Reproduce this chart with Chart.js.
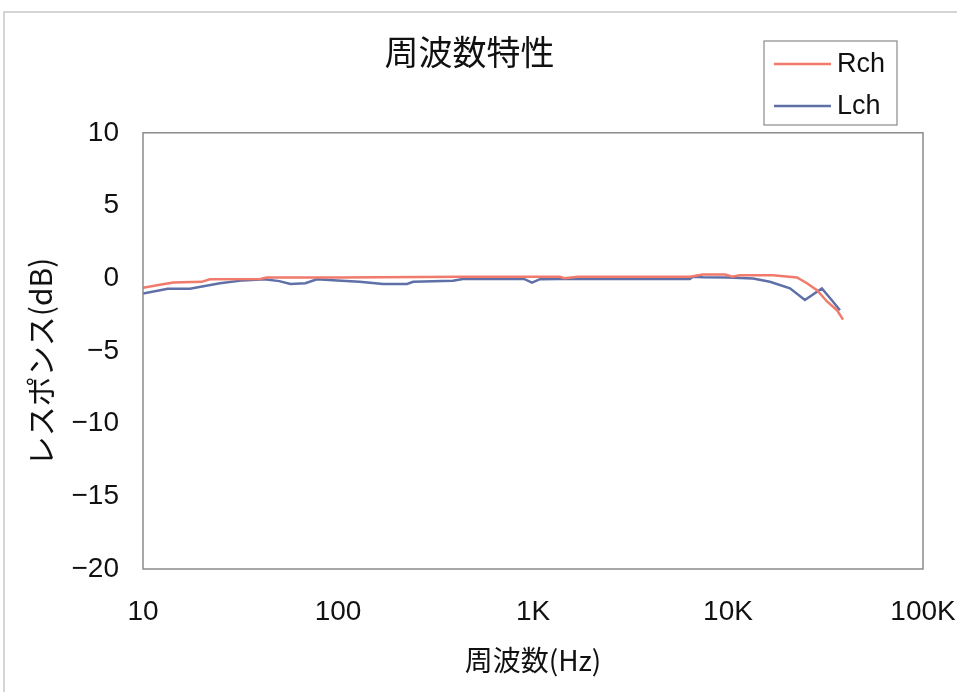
<!DOCTYPE html>
<html>
<head>
<meta charset="utf-8">
<script src="https://cdn.jsdelivr.net/npm/chart.js@4/dist/chart.umd.min.js"></script>
<style>
  body { margin: 0; background: #fff; }
  #wrap { width: 957px; height: 692px; position: relative; }
</style>
</head>
<body>
<div id="wrap"><canvas id="chart"></canvas></div>
<script>
var chartTitle = '周波数特性';
var xTitle = '周波数(Hz)';
var yTitle = 'レスポンス(dB)';

var xTickValues = [10, 100, 1000, 10000, 100000];
var xTickLabels = ['10', '100', '1K', '10K', '100K'];

var seriesNames = ['Rch', 'Lch'];

// Rch
var rchFreq = [10, 12.2, 14.3, 20, 22, 40, 43, 100, 430, 1000, 1370, 1450, 1700, 6400, 7400, 9700, 10500, 11500, 17000, 22600, 25400, 28600, 32200, 36200, 38900];
var rchDb   = [-0.65, -0.45, -0.3, -0.25, -0.08, -0.05, 0.05, 0.05, 0.1, 0.1, 0.1, 0.0, 0.1, 0.1, 0.25, 0.25, 0.1, 0.2, 0.2, 0.05, -0.35, -0.83, -1.6, -2.2, -2.85];

// Lch
var lchFreq = [10, 13.4, 17.4, 24.8, 32.6, 42, 50, 57, 68, 78, 99, 129, 170, 226, 243, 389, 437, 900, 988, 1086, 1374, 1742, 6378, 6600, 7446, 9886, 13440, 16400, 20800, 24800, 30300, 34500, 37500];
var lchDb   = [-1.05, -0.72, -0.72, -0.35, -0.15, -0.07, -0.2, -0.4, -0.35, -0.07, -0.15, -0.25, -0.4, -0.4, -0.25, -0.18, -0.05, -0.05, -0.3, -0.07, -0.05, -0.05, -0.05, 0.1, 0.07, 0.05, -0.02, -0.25, -0.7, -1.5, -0.7, -1.6, -2.2];

var redColor = '#f07a6c';
var blueColor = '#5f6fa8';

function toPoints(xs, ys) {
    var pts = [];
    for (var i = 0; i < xs.length; i++) {
        pts.push({x: xs[i], y: ys[i]});
    }
    return pts;
}

// frame round the plot, outer border, y title and the boxed legend
var framePlugin = {
    id: 'frame',
    afterDraw: function(chart) {
        var ctx = chart.ctx;
        var a = chart.chartArea;
        ctx.save();
        ctx.strokeStyle = '#c8c8c8';
        ctx.lineWidth = 1.5;
        ctx.beginPath();
        ctx.moveTo(4, 692);
        ctx.lineTo(4, 12);
        ctx.lineTo(957, 12);
        ctx.stroke();

        ctx.strokeStyle = '#8a8a8a';
        ctx.lineWidth = 1.5;
        ctx.strokeRect(a.left, a.top, a.right - a.left, a.bottom - a.top);

        // y axis title, a little below the plot middle as in the original
        ctx.save();
        ctx.translate(41, (a.top + a.bottom) / 2 + 11);
        ctx.rotate(-Math.PI / 2);
        ctx.font = '30px "Noto Sans CJK JP", sans-serif';
        ctx.textAlign = 'center';
        ctx.textBaseline = 'middle';
        ctx.fillStyle = '#111';
        ctx.fillText(yTitle, 0, 0);
        ctx.restore();

        // legend
        ctx.strokeStyle = '#8a8a8a';
        ctx.lineWidth = 1.2;
        ctx.strokeRect(764, 41, 133, 84);
        var rows = [64, 106];
        ctx.font = '27px "Liberation Sans", Arial, sans-serif';
        ctx.textBaseline = 'middle';
        ctx.fillStyle = '#111';
        chart.data.datasets.forEach(function(ds, i) {
            ctx.strokeStyle = ds.borderColor;
            ctx.lineWidth = 2.5;
            ctx.beginPath();
            ctx.moveTo(774, rows[i]);
            ctx.lineTo(831, rows[i]);
            ctx.stroke();
            ctx.fillText(ds.label, 837, rows[i] + 1);
        });
        ctx.restore();
    }
};

var ctx = document.getElementById('chart');
var myChart = new Chart(ctx, {
    type: 'scatter',
    data: {
        datasets: [{
            label: seriesNames[0],
            data: toPoints(rchFreq, rchDb),
            borderColor: redColor,
            backgroundColor: redColor,
            showLine: true,
            borderWidth: 2.5,
            pointRadius: 0,
            tension: 0
        }, {
            label: seriesNames[1],
            data: toPoints(lchFreq, lchDb),
            borderColor: blueColor,
            backgroundColor: blueColor,
            showLine: true,
            borderWidth: 2.5,
            pointRadius: 0,
            tension: 0
        }]
    },
    options: {
        responsive: true,
        maintainAspectRatio: false,
        animation: false,
        layout: { padding: { left: 16, right: 34, top: 0, bottom: 0 } },
        plugins: {
            legend: { display: false },
            tooltip: { enabled: false },
            title: {
                display: true,
                text: chartTitle,
                color: '#111',
                font: { family: '"Noto Sans CJK JP", sans-serif', size: 34, weight: 'normal' },
                padding: { top: 32, bottom: 60 }
            }
        },
        scales: {
            x: {
                type: 'logarithmic',
                min: 10,
                max: 100000,
                grid: { display: false },
                border: { display: false },
                afterBuildTicks: function(scale) {
                    scale.ticks = xTickValues.map(function(v) { return {value: v}; });
                },
                afterFit: function(scale) {
                    scale.height = 123;
                    scale.paddingLeft = 0;
                    scale.paddingRight = 0;
                },
                ticks: {
                    autoSkip: false,
                    maxRotation: 0,
                    padding: 18,
                    color: '#111',
                    font: { family: '"Liberation Sans", Arial, sans-serif', size: 28 },
                    callback: function(value) {
                        var i = xTickValues.indexOf(value);
                        return i >= 0 ? xTickLabels[i] : '';
                    }
                },
                title: {
                    display: true,
                    text: xTitle,
                    color: '#111',
                    font: { family: '"Noto Sans CJK JP", sans-serif', size: 28 },
                    padding: { top: 0, bottom: 15 }
                }
            },
            y: {
                min: -20,
                max: 10,
                grid: { display: false },
                border: { display: false },
                afterFit: function(scale) { scale.width = 127; },
                ticks: {
                    stepSize: 5,
                    padding: 16,
                    color: '#111',
                    font: { family: '"Liberation Sans", Arial, sans-serif', size: 28 },
                    callback: function(value) {
                        return String(value).replace('-', '\u2212');
                    }
                }
            }
        }
    },
    plugins: [framePlugin]
});
</script>
</body>
</html>
